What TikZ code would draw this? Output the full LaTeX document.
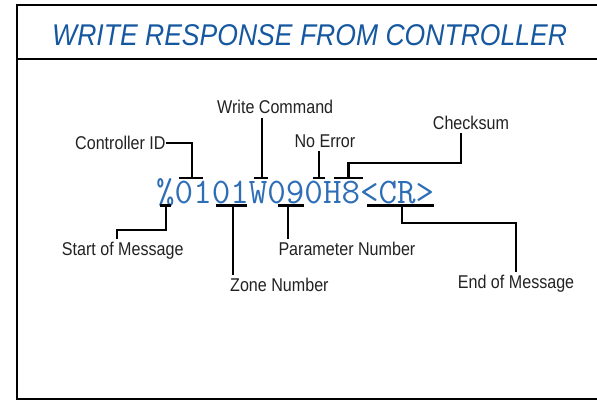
\documentclass[tikz,border=0pt]{standalone}
\usepackage{fontspec}
\setmainfont{Liberation Sans}
\newfontfamily\titlefont[FakeStretch=0.885]{Liberation Sans}
\newfontfamily\labelfont[FakeStretch=0.87]{Liberation Sans}
\definecolor{titleblue}{RGB}{22,88,160}
\definecolor{codeblue}{RGB}{46,110,182}
\definecolor{labelgray}{RGB}{34,34,34}
\tikzset{
  frameline/.style={line width=2.3pt},
  bracket/.style={line width=2.2pt, black},
  lbl/.style={font=\labelfont\fontsize{18.5}{20}\selectfont, text=labelgray, inner xsep=0pt, inner ysep=3.2pt}
}
\begin{document}
\begin{tikzpicture}[x=1pt,y=-1pt]
    \useasboundingbox (0,0) rectangle (597,403);

    % Frame and title
    \draw[frameline] (597,5) -- (17,5) -- (17,399) -- (597,399);
    \draw[frameline] (17,59) -- (597,59);
    \node[anchor=base west, inner sep=0pt, text=titleblue,
          font=\titlefont\itshape\fontsize{30}{33}\selectfont] (title) at (52,45.7) {WRITE RESPONSE FROM CONTROLLER};

    % Message string
    \node[anchor=base west, inner sep=0pt, text=codeblue,
          font=\ttfamily\fontsize{36}{40}\selectfont] (msg) at (156,203.5) {\%0101W090H8<CR>};

    % Bracket points above the string
    \coordinate (bA) at (191.7,178.3);
    \coordinate (bW) at (262,178.3);
    \coordinate (bN) at (319,178.3);
    \coordinate (bH) at (348.5,178.3);
    % Bracket points below the string
    \coordinate (bS) at (165.7,205.5);
    \coordinate (bZ) at (232.7,205.5);
    \coordinate (bP) at (288.3,205.5);
    \coordinate (bE) at (402,205.5);
    % Knees
    \coordinate (kH) at (461,162.7);
    \coordinate (kS) at (116.7,230);
    \coordinate (kE) at (516,223.3);

    % Brackets
    \draw[bracket] (179.3,178.3) -- (203.3,178.3);
    \draw[bracket] (254,178.3) -- (268.3,178.3);
    \draw[bracket] (313.3,178.3) -- (325,178.3);
    \draw[bracket] (334.3,178.3) -- (363.3,178.3);
    \draw[bracket] (160,205.5) -- (170.7,205.5);
    \draw[bracket] (216,205.5) -- (246.7,205.5);
    \draw[bracket] (277.7,205.5) -- (304,205.5);
    \draw[bracket] (367.3,205.5) -- (434.3,205.5);

    % Labels
    \node[lbl, anchor=base west] (cid) at (75,150) {Controller ID};
    \node[lbl, anchor=base west] (wc) at (217,114) {Write Command};
    \node[lbl, anchor=base west] (ne) at (294.3,147.7) {No Error};
    \node[lbl, anchor=base west] (cs) at (432.7,129.3) {Checksum};
    \node[lbl, anchor=base west] (sm) at (61.7,256) {Start of Message};
    \node[lbl, anchor=base west] (zn) at (230,291.7) {Zone Number};
    \node[lbl, anchor=base west] (pn) at (278.3,256) {Parameter Number};
    \node[lbl, anchor=base west] (em) at (457.7,289) {End of Message};

    % Connectors
    \draw[bracket] (cid.east) -| (bA);
    \draw[bracket] (bW) -- (bW |- wc.south);
    \draw[bracket] (bN) -- (bN |- ne.south);
    \draw[bracket] (bH) |- (kH) -- (kH |- cs.south);
    \draw[bracket] (bS) |- (kS) -- (kS |- sm.north);
    \draw[bracket] (bZ) -- (bZ |- zn.north);
    \draw[bracket] (bP) -- (bP |- pn.north);
    \draw[bracket] (bE) |- (kE) -- (kE |- em.north);
\end{tikzpicture}
\end{document}
